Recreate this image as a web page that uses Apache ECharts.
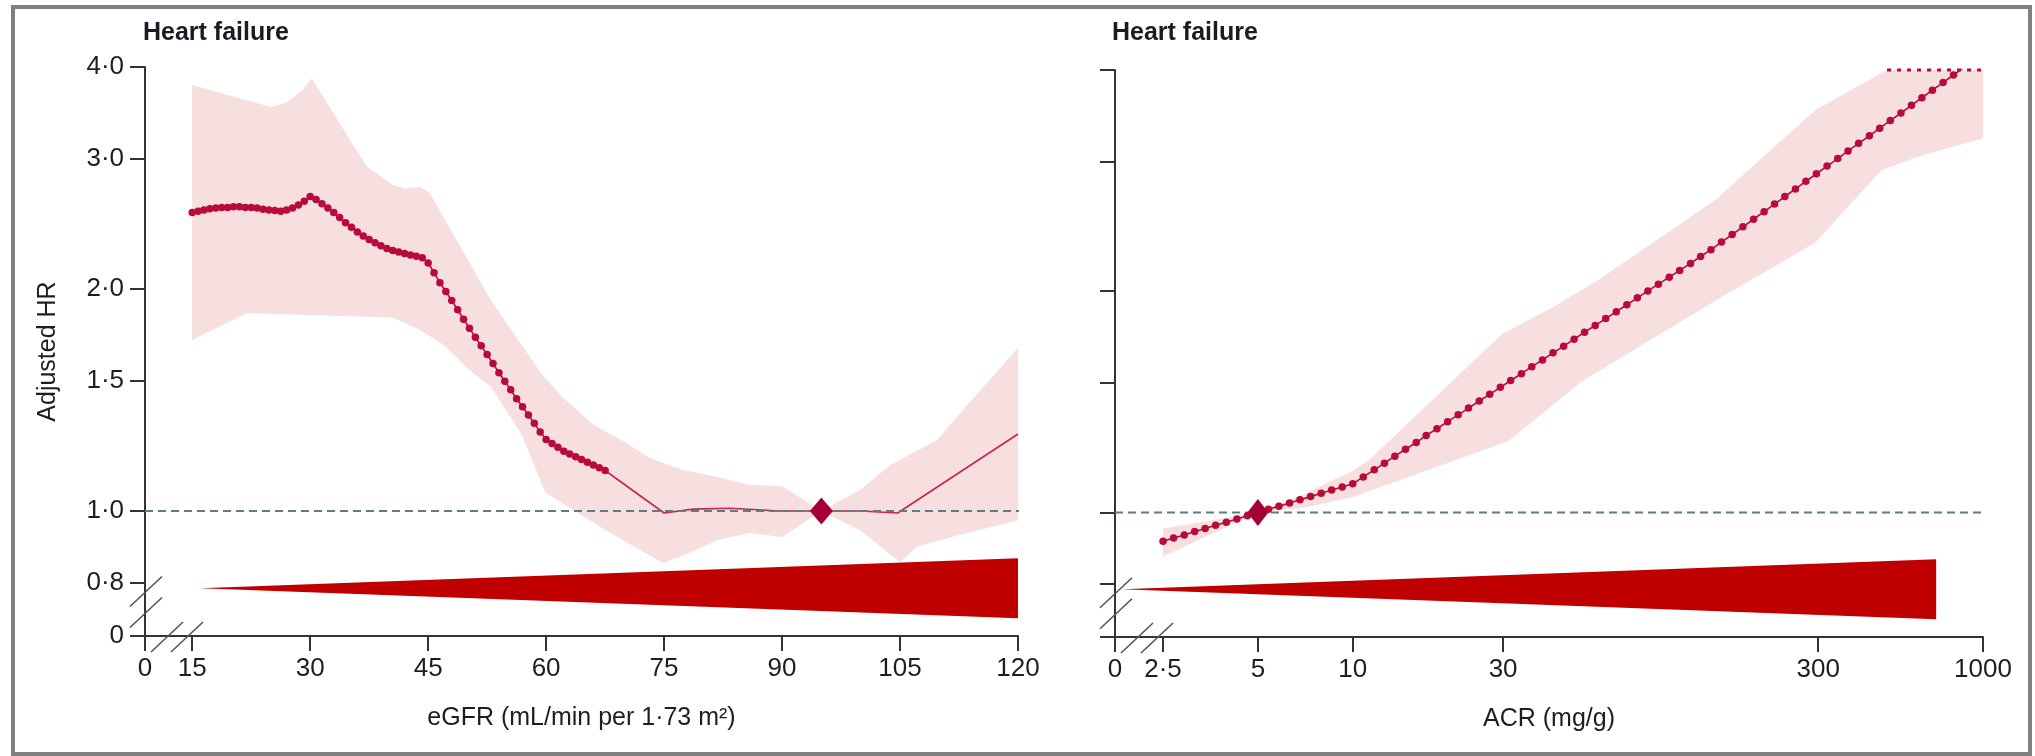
<!DOCTYPE html>
<html>
<head>
<meta charset="utf-8">
<title>Heart failure – adjusted HR by eGFR and ACR</title>
<script src="https://cdn.jsdelivr.net/npm/echarts@6/dist/echarts.min.js"></script>
<style>
  html, body { margin: 0; padding: 0; background: #ffffff; }
  #chart { width: 2035px; height: 756px; }
</style>
</head>
<body>
<div id="chart"></div>
<script>
// ---------------- data ----------------
// eGFR panel: spline estimate, points where the estimate is significant (dotted part)
const EGFR_DOT_X = [15, 15.75, 16.5, 17.25, 18, 18.75, 19.5, 20.25, 21, 21.75, 22.5, 23.25, 24, 24.75, 25.5, 26.25, 27, 27.75, 28.5, 29.25,
  30, 30.75, 31.5, 32.25, 33, 33.75, 34.5, 35.25, 36, 36.75, 37.5, 38.25, 39, 39.75, 40.5, 41.25, 42, 42.75, 43.5, 44.25,
  45, 45.75, 46.5, 47.25, 48, 48.75, 49.5, 50.25, 51, 51.75, 52.5, 53.25, 54, 54.75, 55.5, 56.25, 57, 57.75, 58.5, 59.25,
  60, 60.75, 61.5, 62.25, 63, 63.75, 64.5, 65.25, 66, 66.75, 67.5];
const EGFR_DOT_HR = [2.54, 2.55, 2.56, 2.57, 2.575, 2.58, 2.58, 2.585, 2.585, 2.58, 2.58, 2.575, 2.565, 2.56, 2.555, 2.55, 2.56, 2.575, 2.60, 2.63,
  2.67, 2.645, 2.61, 2.575, 2.54, 2.50, 2.46, 2.425, 2.39, 2.36, 2.335, 2.31, 2.29, 2.27, 2.255, 2.245, 2.235, 2.225, 2.215, 2.205,
  2.17, 2.105, 2.04, 1.985, 1.93, 1.875, 1.82, 1.77, 1.72, 1.675, 1.63, 1.585, 1.54, 1.50, 1.46, 1.42, 1.385, 1.35, 1.315, 1.28,
  1.25, 1.235, 1.22, 1.205, 1.195, 1.185, 1.175, 1.165, 1.155, 1.145, 1.135];
// non-significant continuation (thin line)
const EGFR_LINE_X  = [67.5, 75, 78.7, 83.4, 89.7, 95, 100, 104.7, 120];
const EGFR_LINE_HR = [1.135, 0.994, 1.006, 1.009, 1.0, 1.0, 1.0, 0.994, 1.272];
// 95% CI
const EGFR_CI_UP_X  = [15, 25, 27, 29, 30.2, 37.2, 40.5, 42, 44, 45.2, 53, 56.7, 59.5, 62, 66, 70, 73.2, 77, 81.7, 85.9, 90, 95, 100, 103.7, 109.7, 114, 120];
const EGFR_CI_UP    = [3.78, 3.53, 3.58, 3.72, 3.86, 2.93, 2.77, 2.74, 2.75, 2.70, 1.93, 1.69, 1.53, 1.43, 1.31, 1.24, 1.18, 1.14, 1.112, 1.085, 1.081, 1.0, 1.07, 1.154, 1.248, 1.41, 1.664];
const EGFR_CI_LO_X  = [15, 18, 22, 28.7, 40.5, 44, 47.3, 50, 53, 56.9, 59.9, 63, 67, 71, 74.9, 78, 81.7, 85.9, 90, 95, 100, 105, 107.1, 112, 120];
const EGFR_CI_LO    = [1.706, 1.77, 1.856, 1.845, 1.83, 1.76, 1.67, 1.56, 1.473, 1.27, 1.06, 1.01, 0.95, 0.897, 0.85, 0.875, 0.913, 0.934, 0.922, 1.0, 0.94, 0.853, 0.894, 0.925, 0.972];
const EGFR_REF = 95;                 // reference eGFR
const EGFR_DIST = [16, 120];          // extent of the distribution wedge

// ACR panel
const ACR_X = [2.5, 2.7, 2.92, 3.15, 3.4, 3.67, 3.97, 4.29, 4.63, 5, 5.4, 5.83, 6.3, 6.8, 7.35, 7.94, 8.57, 9.26, 10,
  10.8, 11.7, 12.6, 13.6, 14.7, 15.9, 17.1, 18.5, 20, 21.6, 23.3, 25.2, 27.2, 29.4, 31.7, 34.3, 37, 40, 43.2, 46.7,
  50.4, 54.4, 58.8, 63.5, 68.6, 74.1, 80, 86.4, 93.3, 101, 109, 118, 127, 137, 148, 160, 173, 187, 202, 218, 235,
  254, 274, 296, 320, 346, 373, 403, 436, 470, 508, 549, 593, 640, 691, 747, 806, 871, 941, 1000];
const ACR_HR = [0.914, 0.923, 0.932, 0.942, 0.951, 0.961, 0.970, 0.980, 0.990, 1.000, 1.010, 1.020, 1.030, 1.041, 1.051, 1.062, 1.073, 1.083, 1.094,
  1.118, 1.143, 1.167, 1.193, 1.219, 1.245, 1.273, 1.300, 1.329, 1.358, 1.387, 1.418, 1.448, 1.480, 1.512, 1.545, 1.579, 1.613, 1.649, 1.684,
  1.721, 1.759, 1.797, 1.836, 1.876, 1.917, 1.959, 2.002, 2.045, 2.090, 2.135, 2.182, 2.230, 2.278, 2.333, 2.389, 2.447, 2.506, 2.566, 2.628, 2.691,
  2.756, 2.822, 2.890, 2.960, 3.031, 3.104, 3.179, 3.255, 3.334, 3.414, 3.496, 3.581, 3.667, 3.755, 3.846, 3.938, 4.033, 4.130, 4.20];
const ACR_CI_UP_X = [2.5, 5, 7, 10, 11.3, 29.8, 43, 60, 141, 294, 400, 496, 1000];
const ACR_CI_UP   = [0.951, 1.0, 1.06, 1.14, 1.18, 1.75, 1.90, 2.07, 2.66, 3.53, 3.80, 4.0, 4.0];
const ACR_CI_LO_X = [2.5, 5, 7, 10, 31.1, 53.5, 150, 294, 475, 610, 1000];
const ACR_CI_LO   = [0.871, 1.0, 1.015, 1.05, 1.25, 1.51, 1.97, 2.33, 2.92, 3.04, 3.23];
const ACR_CAP = [496, 1000];          // upper CI above the axis limit
const ACR_REF = 5;
const ACR_DIST = [1.85, 710];

// ticks
const HR_TICKS = [0.8, 1.0, 1.5, 2.0, 3.0, 4.0];
const HR_TICK_LABELS = ['0·8', '1·0', '1·5', '2·0', '3·0', '4·0'];
const EGFR_TICKS = [15, 30, 45, 60, 75, 90, 105, 120];
const EGFR_TICK_LABELS = ['15', '30', '45', '60', '75', '90', '105', '120'];
const ACR_TICKS = [2.5, 5, 10, 30, 300, 1000];
const ACR_TICK_LABELS = ['2·5', '5', '10', '30', '300', '1000'];

// ---------------- layout / style ----------------
const FONT = "'Liberation Sans', Arial, sans-serif";
const TEXT = '#1e1e1e';
const AXIS = '#333333';
const DOT = '#b80b3c';
const LINE = '#c0294e';
const BAND = '#f6dfde';
const WEDGE = '#c00000';
const REFLINE = '#5f7b83';
const DIAMOND = '#a50034';

// positions where the broken axes place their "0"
const HR_BREAK = 0.677;
const EGFR_BREAK = 9;
const ACR_BREAK = 1.76;
const WEDGE_MID_HR = 0.786;
const WEDGE_HALF = 30;

const ln = Math.log;
const id = v => v;

function nearestLabel(v, positions, labels) {
  let best = 0, d = Infinity;
  positions.forEach((p, i) => { const dd = Math.abs(p - v); if (dd < d) { d = dd; best = i; } });
  return labels[best];
}

const hrPos = [ln(HR_BREAK)].concat(HR_TICKS.map(ln));
const hrLab = ['0'].concat(HR_TICK_LABELS);
const egfrPos = [EGFR_BREAK].concat(EGFR_TICKS);
const egfrLab = ['0'].concat(EGFR_TICK_LABELS);
const acrPos = [ln(ACR_BREAK)].concat(ACR_TICKS.map(ln));
const acrLab = ['0'].concat(ACR_TICK_LABELS);

function bandItem(ux, uy, lx, ly, tx) {
  return function (params, api) {
    const pts = [];
    for (let i = 0; i < ux.length; i++) pts.push(api.coord([tx(ux[i]), ln(uy[i])]));
    for (let i = lx.length - 1; i >= 0; i--) pts.push(api.coord([tx(lx[i]), ln(ly[i])]));
    return { type: 'polygon', shape: { points: pts }, style: { fill: BAND } };
  };
}
function wedgeItem(range, tx) {
  return function (params, api) {
    const tip = api.coord([tx(range[0]), ln(WEDGE_MID_HR)]);
    const end = api.coord([tx(range[1]), ln(WEDGE_MID_HR)]);
    return {
      type: 'polygon',
      shape: { points: [tip, [end[0], end[1] - WEDGE_HALF], [end[0], end[1] + WEDGE_HALF]] },
      style: { fill: WEDGE }
    };
  };
}

function xAxisCfg(grid, min, max, pos, lab, name) {
  return {
    gridIndex: grid, type: 'value', min: min, max: max,
    axisLine: { show: true, onZero: false, lineStyle: { color: AXIS, width: 2 } },
    axisTick: { show: true, length: 15, customValues: pos, lineStyle: { color: AXIS, width: 2 } },
    axisLabel: { customValues: pos, fontSize: 26, color: TEXT, fontFamily: FONT, margin: 20,
      formatter: v => nearestLabel(v, pos, lab) },
    splitLine: { show: false },
    name: name, nameLocation: 'middle', nameGap: 70,
    nameTextStyle: { fontSize: 25, color: TEXT, fontFamily: FONT }
  };
}
function yAxisCfg(grid, showLabels, name) {
  return {
    gridIndex: grid, type: 'value', min: ln(HR_BREAK), max: ln(4),
    axisLine: { show: true, onZero: false, lineStyle: { color: AXIS, width: 2 } },
    axisTick: { show: true, length: 15, customValues: hrPos, lineStyle: { color: AXIS, width: 2 } },
    axisLabel: { show: showLabels, customValues: hrPos, fontSize: 26, color: TEXT, fontFamily: FONT, margin: 21,
      formatter: v => nearestLabel(v, hrPos, hrLab) },
    splitLine: { show: false },
    name: name, nameLocation: 'middle', nameGap: 84, nameRotate: 90,
    nameTextStyle: { fontSize: 25, color: TEXT, fontFamily: FONT }
  };
}

const egfrDots = EGFR_DOT_X.map((x, i) => [x, ln(EGFR_DOT_HR[i])]);
const egfrLine = EGFR_LINE_X.map((x, i) => [x, ln(EGFR_LINE_HR[i])]);
const acrDots = ACR_X.map((x, i) => [ln(x), ln(ACR_HR[i])]);

const option = {
  animation: false,
  backgroundColor: '#ffffff',
  textStyle: { fontFamily: FONT },
  title: [
    { text: 'Heart failure', left: 143, top: 18, padding: 0,
      textStyle: { fontSize: 25, fontWeight: 'bold', color: '#1b1b26', fontFamily: FONT, lineHeight: 30 } },
    { text: 'Heart failure', left: 1112, top: 18, padding: 0,
      textStyle: { fontSize: 25, fontWeight: 'bold', color: '#1b1b26', fontFamily: FONT, lineHeight: 30 } }
  ],
  grid: [
    { left: 145, top: 67, width: 873, height: 569 },
    { left: 1115, top: 70, width: 868, height: 567 }
  ],
  xAxis: [
    xAxisCfg(0, EGFR_BREAK, 120, egfrPos, egfrLab, 'eGFR (mL/min per 1·73 m²)'),
    xAxisCfg(1, ln(ACR_BREAK), ln(1000), acrPos, acrLab, 'ACR (mg/g)')
  ],
  yAxis: [
    yAxisCfg(0, true, 'Adjusted HR'),
    yAxisCfg(1, false, '')
  ],
  series: [
    // ---- eGFR panel ----
    { type: 'custom', xAxisIndex: 0, yAxisIndex: 0, silent: true, clip: true, z: 1,
      renderItem: bandItem(EGFR_CI_UP_X, EGFR_CI_UP, EGFR_CI_LO_X, EGFR_CI_LO, id),
      data: [[EGFR_REF, 0]] },
    { type: 'custom', xAxisIndex: 0, yAxisIndex: 0, silent: true, z: 2,
      renderItem: wedgeItem(EGFR_DIST, id), data: [[EGFR_REF, 0]] },
    { type: 'line', xAxisIndex: 0, yAxisIndex: 0, silent: true, z: 3,
      data: egfrLine, showSymbol: false, lineStyle: { color: LINE, width: 1.6 } },
    { type: 'line', xAxisIndex: 0, yAxisIndex: 0, silent: true, clip: false, z: 4,
      data: [[EGFR_BREAK, 0], [120.5, 0]], showSymbol: false,
      lineStyle: { color: REFLINE, width: 2, type: [8, 5] } },
    { type: 'line', xAxisIndex: 0, yAxisIndex: 0, silent: true, z: 5,
      data: egfrDots, showSymbol: true, showAllSymbol: true, symbol: 'circle', symbolSize: 7.5,
      itemStyle: { color: DOT, opacity: 1 }, lineStyle: { color: DOT, width: 1.6 } },
    { type: 'scatter', xAxisIndex: 0, yAxisIndex: 0, silent: true, z: 6,
      data: [[EGFR_REF, 0]], symbol: 'diamond', symbolSize: [23, 27], itemStyle: { color: DIAMOND, opacity: 1 } },

    // ---- ACR panel ----
    { type: 'custom', xAxisIndex: 1, yAxisIndex: 1, silent: true, clip: true, z: 1,
      renderItem: bandItem(ACR_CI_UP_X, ACR_CI_UP, ACR_CI_LO_X, ACR_CI_LO, ln),
      data: [[ln(ACR_REF), 0]] },
    { type: 'custom', xAxisIndex: 1, yAxisIndex: 1, silent: true, z: 2,
      renderItem: wedgeItem(ACR_DIST, ln), data: [[ln(ACR_REF), 0]] },
    { type: 'line', xAxisIndex: 1, yAxisIndex: 1, silent: true, clip: false, z: 3,
      data: [[ln(ACR_BREAK), 0], [ln(1080), 0]], showSymbol: false,
      lineStyle: { color: REFLINE, width: 2, type: [8, 5] } },
    { type: 'line', xAxisIndex: 1, yAxisIndex: 1, silent: true, clip: false, z: 4,
      data: ACR_CAP.map(x => [ln(x), ln(4)]), showSymbol: false,
      lineStyle: { color: DOT, width: 3, type: [4, 6] } },
    { type: 'line', xAxisIndex: 1, yAxisIndex: 1, silent: true, clip: true, z: 5,
      data: acrDots, showSymbol: true, showAllSymbol: true, symbol: 'circle', symbolSize: 7.5,
      itemStyle: { color: DOT, opacity: 1 }, lineStyle: { color: DOT, width: 1.6 } },
    { type: 'scatter', xAxisIndex: 1, yAxisIndex: 1, silent: true, z: 6,
      data: [[ln(ACR_REF), 0]], symbol: 'diamond', symbolSize: [21, 27], itemStyle: { color: DIAMOND, opacity: 1 } }
  ]
};

const chart = echarts.init(document.getElementById('chart'), null, { renderer: 'canvas' });
chart.setOption(option);

// frame and axis-break marks, placed from the axes' own scales
function breakMarks(grid, xMin, yMin) {
  const o = chart.convertToPixel({ gridIndex: grid }, [xMin, yMin]);
  const y08 = chart.convertToPixel({ gridIndex: grid }, [xMin, ln(0.8)])[1];
  const slash = (cx, cy) => ({
    type: 'line', silent: true, z: 50,
    shape: { x1: cx - 16, y1: cy + 15, x2: cx + 16, y2: cy - 15 },
    style: { stroke: '#555555', lineWidth: 1.6 }
  });
  return [
    slash(o[0] + 1, y08 + 9), slash(o[0] + 1, y08 + 30),
    slash(o[0] + 22, o[1] + 1), slash(o[0] + 42, o[1] + 1)
  ];
}
const graphics = [
  { type: 'rect', silent: true, z: 60,
    shape: { x: 13, y: 7, width: 2017, height: 747 },
    style: { fill: null, stroke: '#808080', lineWidth: 4 } }
].concat(breakMarks(0, EGFR_BREAK, ln(HR_BREAK)), breakMarks(1, ln(ACR_BREAK), ln(HR_BREAK)));
chart.setOption({ graphic: graphics });
</script>
</body>
</html>
